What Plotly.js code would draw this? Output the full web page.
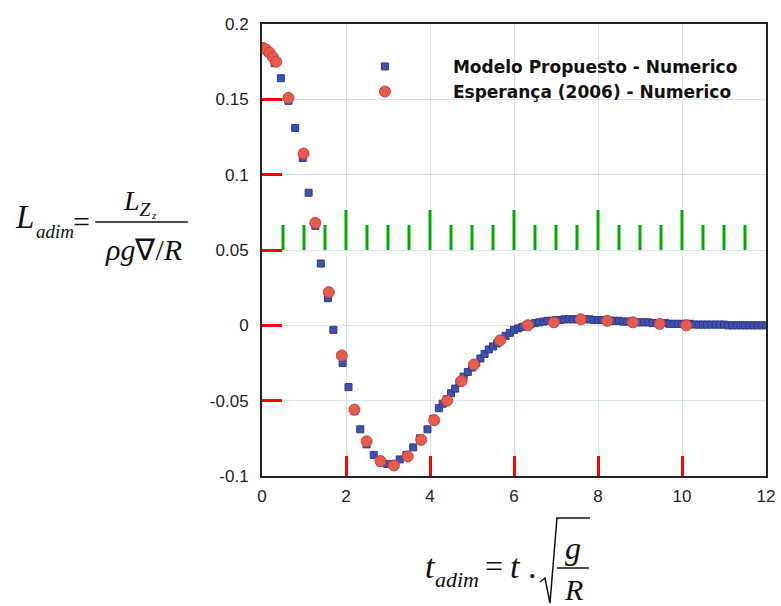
<!DOCTYPE html>
<html>
<head>
<meta charset="utf-8">
<script src="https://cdn.plot.ly/plotly-3.0.1.min.js"></script>
<style>html,body{margin:0;padding:0;background:#fff;}#chart{width:781px;height:606px;}</style>
</head>
<body>
<div id="chart"></div>
<script>
// Series: Modelo Propuesto - Numerico
const modeloX = [0.00,0.15,0.30,0.45,0.63,0.79,0.97,1.11,1.27,1.40,1.57,1.70,1.92,2.06,2.20,2.34,2.49,2.66,2.82,2.98,3.13,3.28,3.44,3.60,3.76,3.94,4.08,4.21,
  4.3,4.4,4.5,4.6,4.7,4.8,4.9,5.0,5.1,5.2,5.3,5.4,5.5,5.6,5.7,5.8,5.9,6.0,6.1,6.2,6.3,6.4,6.5,6.6,6.7,6.8,6.9,
  7.0,7.1,7.2,7.3,7.4,7.5,7.6,7.7,7.8,7.9,8.0,8.1,8.2,8.3,8.4,8.5,8.6,8.7,8.8,8.9,9.0,9.1,9.2,9.3,9.4,9.5,9.6,9.7,9.8,9.9,
  10.0,10.1,10.2,10.3,10.4,10.5,10.6,10.7,10.8,10.9,11.0,11.1,11.2,11.3,11.4,11.5,11.6,11.7,11.8,11.9,12.0];
const modeloY = [0.185,0.181,0.174,0.164,0.149,0.131,0.111,0.088,0.066,0.041,0.018,-0.003,-0.025,-0.041,-0.057,-0.069,-0.079,-0.086,-0.091,-0.092,-0.092,-0.089,-0.086,-0.081,-0.075,-0.069,-0.062,-0.055,
  -0.052,-0.049,-0.045,-0.042,-0.038,-0.034,-0.031,-0.028,-0.025,-0.022,-0.019,-0.016,-0.014,-0.012,-0.009,-0.007,-0.005,-0.003,-0.002,-0.001,0.000,0.001,0.0015,0.002,0.0025,0.003,0.003,
  0.0035,0.0035,0.004,0.004,0.004,0.004,0.004,0.004,0.004,0.0035,0.0035,0.0035,0.003,0.003,0.003,0.003,0.0025,0.0025,0.0025,0.002,0.002,0.002,0.002,0.0015,0.0015,0.0015,0.0015,0.001,0.001,0.001,
  0.001,0.001,0.001,0.0005,0.0005,0.0005,0.0005,0.0005,0.0005,0.0005,0.0005,0.0,0.0,0.0,0.0,0.0,0.0,0.0,0.0,0.0,0.0];

// Series: Esperança (2006) - Numerico
const esperancaX = [0.02,0.10,0.18,0.26,0.34,0.63,0.99,1.27,1.59,1.90,2.20,2.49,2.82,3.14,3.47,3.79,4.10,4.41,4.75,5.05,5.67,6.33,6.95,7.59,8.22,8.83,9.47,10.10];
const esperancaY = [0.184,0.183,0.181,0.178,0.175,0.151,0.114,0.068,0.022,-0.020,-0.056,-0.077,-0.090,-0.093,-0.087,-0.076,-0.063,-0.050,-0.037,-0.026,-0.010,0.000,0.002,0.004,0.003,0.002,0.001,0.000];

const seriesNames = ['Modelo Propuesto - Numerico', 'Esperança (2006) - Numerico'];
const xTickVals = [0,2,4,6,8,10,12];
const xTickText = ['0','2','4','6','8','10','12'];
const yTickVals = [0.2,0.15,0.1,0.05,0,-0.05,-0.1];
const yTickText = ['0.2','0.15','0.1','0.05','0','-0.05','-0.1'];
const xRange = [0, 12];
const yRange = [-0.1, 0.2];

const traces = [
  {x: modeloX, y: modeloY, name: seriesNames[0], type: 'scatter', mode: 'markers',
   marker: {symbol: 'square', size: 7, color: '#4152ad', line: {color: '#2c3b8c', width: 1}}},
  {x: esperancaX, y: esperancaY, name: seriesNames[1], type: 'scatter', mode: 'markers',
   marker: {symbol: 'circle', size: 11, color: '#e85a4c', line: {color: '#c8453a', width: 1}}}
];

const serif = 'Liberation Serif, Times New Roman, serif';
const axisCommon = {
  showline: true, linecolor: '#222', linewidth: 2, mirror: true,
  ticks: 'inside', ticklen: 20, tickwidth: 3, tickcolor: '#ff0000',
  showgrid: true, gridcolor: '#d6e3ee', gridwidth: 1, zeroline: false,
  tickfont: {family: 'Liberation Sans, Arial, sans-serif', size: 17, color: '#222'},
  tickmode: 'array'
};

function ann(x, y, text, size, xanchor) {
  return {xref: 'paper', yref: 'paper', x: x, y: y, xanchor: xanchor || 'center', yanchor: 'middle',
          showarrow: false, text: text, font: {family: serif, size: size, color: '#111'}};
}

const plotW = 781 - 262 - 15, plotH = 606 - 24 - 130;
const tickShapes = [];
for (let i = 1; i < 24; i++) {
  const v = i * 0.5, major = (i % 4 === 0), len = (major ? 8 : 5) / plotH;
  const px = (v - xRange[0]) / (xRange[1] - xRange[0]);
  tickShapes.push({type: 'line', xref: 'paper', yref: 'paper', x0: px, x1: px, y0: 0.5, y1: 0.5 + 5 * len,
    line: {color: '#00aa00', width: 3}});
}

const layout = {
  width: 781, height: 606,
  margin: {l: 262, r: 15, t: 24, b: 130},
  showlegend: true,
  legend: {x: 0.109, y: 0.945, xanchor: 'left', yanchor: 'top', bgcolor: 'rgba(0,0,0,0)',
           itemwidth: 126, tracegroupgap: 0,
           font: {family: 'DejaVu Sans, sans-serif', size: 17, color: '#111', weight: 'bold'}},
  xaxis: Object.assign({}, axisCommon, {range: xRange, tickvals: xTickVals, ticktext: xTickText,
          ticklabelstandoff: 4}),
  yaxis: Object.assign({}, axisCommon, {range: yRange, tickvals: yTickVals, ticktext: yTickText,
          ticklabelstandoff: 8}),
  annotations: [
    ann(-0.472, 0.573, '<i>L</i>', 33),
    ann(-0.452, 0.542, '<i>adim</i>', 19, 'left'),
    ann(-0.359, 0.562, '=', 30),
    ann(-0.248, 0.604, '<i>L<sub>Z</sub></i>', 28),
    ann(-0.214, 0.578, '<i>z</i>', 11),
    ann(-0.236, 0.502, '<i>ρg</i>∇/<i>R</i>', 30),
    ann(0.335, -0.201, '<i>t</i>', 34),
    ann(0.339, -0.228, '<i>adim</i>', 22, 'left'),
    ann(0.460, -0.199, '=', 32),
    ann(0.488, -0.201, '<i>t</i> .', 34, 'left'),
    ann(0.617, -0.159, '<i>g</i>', 32),
    ann(0.619, -0.250, '<i>R</i>', 30)
  ],
  shapes: [
    {type: 'line', xref: 'paper', yref: 'paper', x0: -0.331, x1: -0.147, y0: 0.562, y1: 0.562,
     line: {color: '#111', width: 1.5}},
    {type: 'line', xref: 'paper', yref: 'paper', x0: 0.585, x1: 0.649, y0: -0.2035, y1: -0.2035,
     line: {color: '#111', width: 1.5}},
    {type: 'path', xref: 'paper', yref: 'paper',
     path: 'M 0.5516 -0.2345 L 0.5615 -0.2257 L 0.5714 -0.281 L 0.5853 -0.0929 L 0.6508 -0.0929',
     line: {color: '#111', width: 1.5}}
  ].concat(tickShapes)
};

Plotly.newPlot('chart', traces, layout, {displayModeBar: false, staticPlot: true});
</script>
</body>
</html>
